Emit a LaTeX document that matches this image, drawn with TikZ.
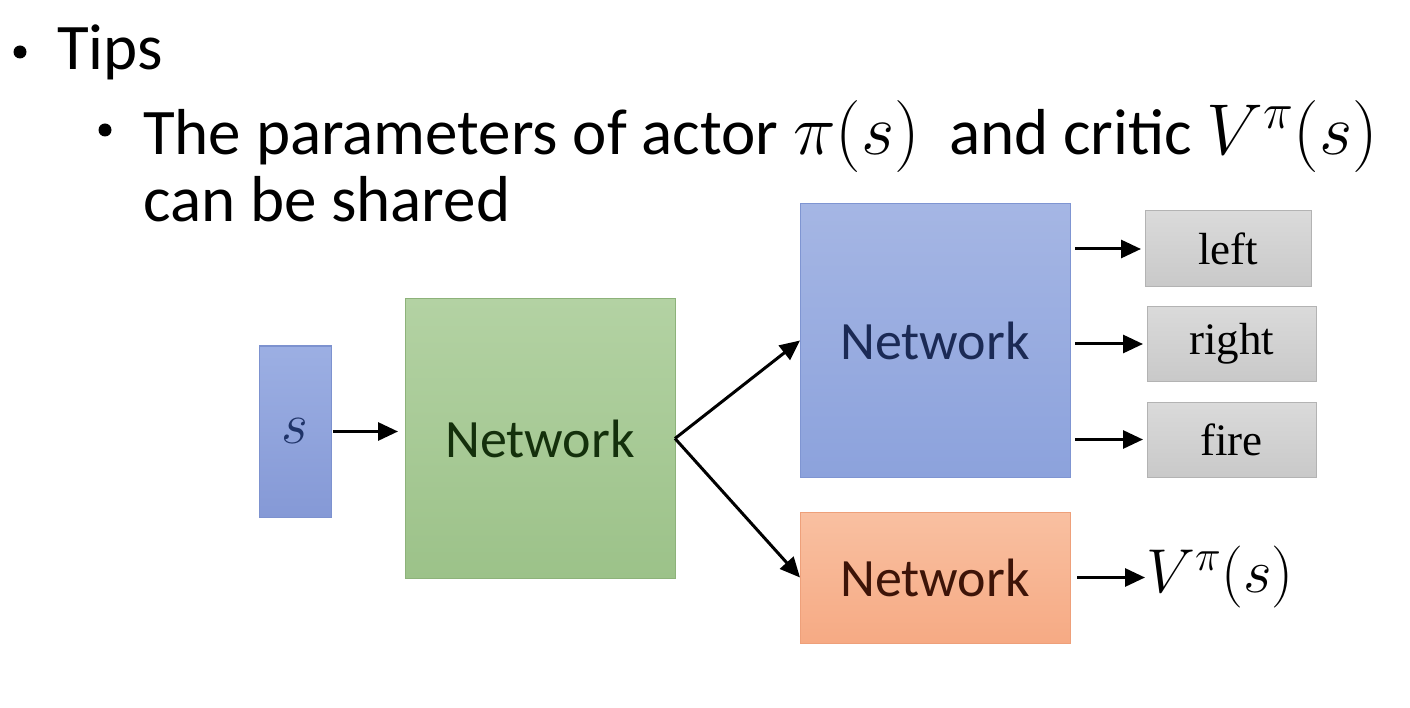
\RequirePackage{fix-cm}
\documentclass[tikz,border=0pt]{standalone}
\usepackage{fontspec}
\setmainfont{Carlito}
\newfontfamily\serifrm{Liberation Serif}
\usetikzlibrary{arrows.meta,shadings}
\definecolor{sboxtop}{HTML}{9CAFE3}
\definecolor{sboxbot}{HTML}{8599D6}
\definecolor{sboxdraw}{HTML}{7D92CF}
\definecolor{gtop}{HTML}{B3D2A3}
\definecolor{gbot}{HTML}{9CC289}
\definecolor{gdraw}{HTML}{8DB27A}
\definecolor{btop}{HTML}{A5B6E4}
\definecolor{bbot}{HTML}{8CA2DC}
\definecolor{bdraw}{HTML}{7F95D2}
\definecolor{otop}{HTML}{F9C0A1}
\definecolor{obot}{HTML}{F6AA84}
\definecolor{odraw}{HTML}{EEA07A}
\definecolor{graytop}{HTML}{DADADA}
\definecolor{graybot}{HTML}{C9C9C9}
\definecolor{graydraw}{HTML}{B3B3B3}
\definecolor{stext}{HTML}{1F3368}
\definecolor{gtext}{HTML}{14300C}
\definecolor{btext}{HTML}{1B2A55}
\definecolor{otext}{HTML}{3D1408}
\newcommand\bigmath[1]{{\fontsize{72}{78}\selectfont$#1$}}
\tikzset{
  box/.style={rectangle, outer sep=0pt, inner sep=0pt, line width=1pt},
  netfont/.style={font=\fontsize{54}{60}\selectfont},
  outbox/.style={box, draw=graydraw, top color=graytop, bottom color=graybot,
     font=\serifrm\fontsize{45}{50}\selectfont, text=black},
  arr/.style={line width=3pt, -{Triangle[length=20pt,width=18pt]}},
  bigtext/.style={anchor=base west, inner sep=0pt, font=\fontsize{65}{78}\selectfont},
  bul/.style={circle, fill=black, inner sep=0pt, minimum size=13pt}
}
\begin{document}
\begin{tikzpicture}[x=1pt,y=-1pt]
\useasboundingbox (0,0) rectangle (1410,708);
% text
\node[bul] (b1) at (20,52) {};
\node[bigtext] (tips) at (57,70) {Tips};
\node[bul] (b2) at (105,130) {};
\node[bigtext] (line1) at (143,155) {The parameters of actor \bigmath{\pi(s)}\ \ and critic \bigmath{V^{\pi}(s)}};
\node[bigtext] (line2) at (143,222) {can be shared};
% boxes
\node[box, draw=sboxdraw, top color=sboxtop, bottom color=sboxbot, minimum width=72pt, minimum height=171pt,
      font=\fontsize{58}{60}\selectfont, text=stext] (s) at (295,431.5) {$s$};
\node[box, draw=gdraw, top color=gtop, bottom color=gbot, minimum width=270pt, minimum height=279pt,
      netfont, text=gtext] (g) at (540,438.5) {Network};
\node[box, draw=bdraw, top color=btop, bottom color=bbot, minimum width=270pt, minimum height=273pt,
      netfont, text=btext] (b) at (935,340.5) {Network};
\node[box, draw=odraw, top color=otop, bottom color=obot, minimum width=270pt, minimum height=131pt,
      netfont, text=otext] (o) at (935,577.5) {Network};
\node[outbox, minimum width=166pt, minimum height=76pt] (left) at (1228,249) {left};
\node[outbox, minimum width=169pt, minimum height=74pt] (right) at (1231.5,344) {right};
\node[outbox, minimum width=169pt, minimum height=75pt] (fire) at (1231.5,439.5) {fire};
\node[anchor=west, inner sep=0pt, font=\fontsize{62}{70}\selectfont] (v) at (1146,577) {$V^{\pi}(s)$};
% arrows
\draw[arr, shorten <=2pt, shorten >=7pt] (s.east) -- (s.east -| g.west);
\draw[arr] (g.east) -- (b.west);
\draw[arr] (g.east) -- (o.west);
\draw[arr, shorten <=5pt, shorten >=4pt] (left.west -| b.east) -- (left.west);
\draw[arr, shorten <=5pt, shorten >=4pt] (right.west -| b.east) -- (right.west);
\draw[arr, shorten <=5pt, shorten >=4pt] (fire.west -| b.east) -- (fire.west);
\draw[arr, shorten <=7pt, shorten >=1pt] (o.east) -- (o.east -| v.west);
\end{tikzpicture}
\end{document}
